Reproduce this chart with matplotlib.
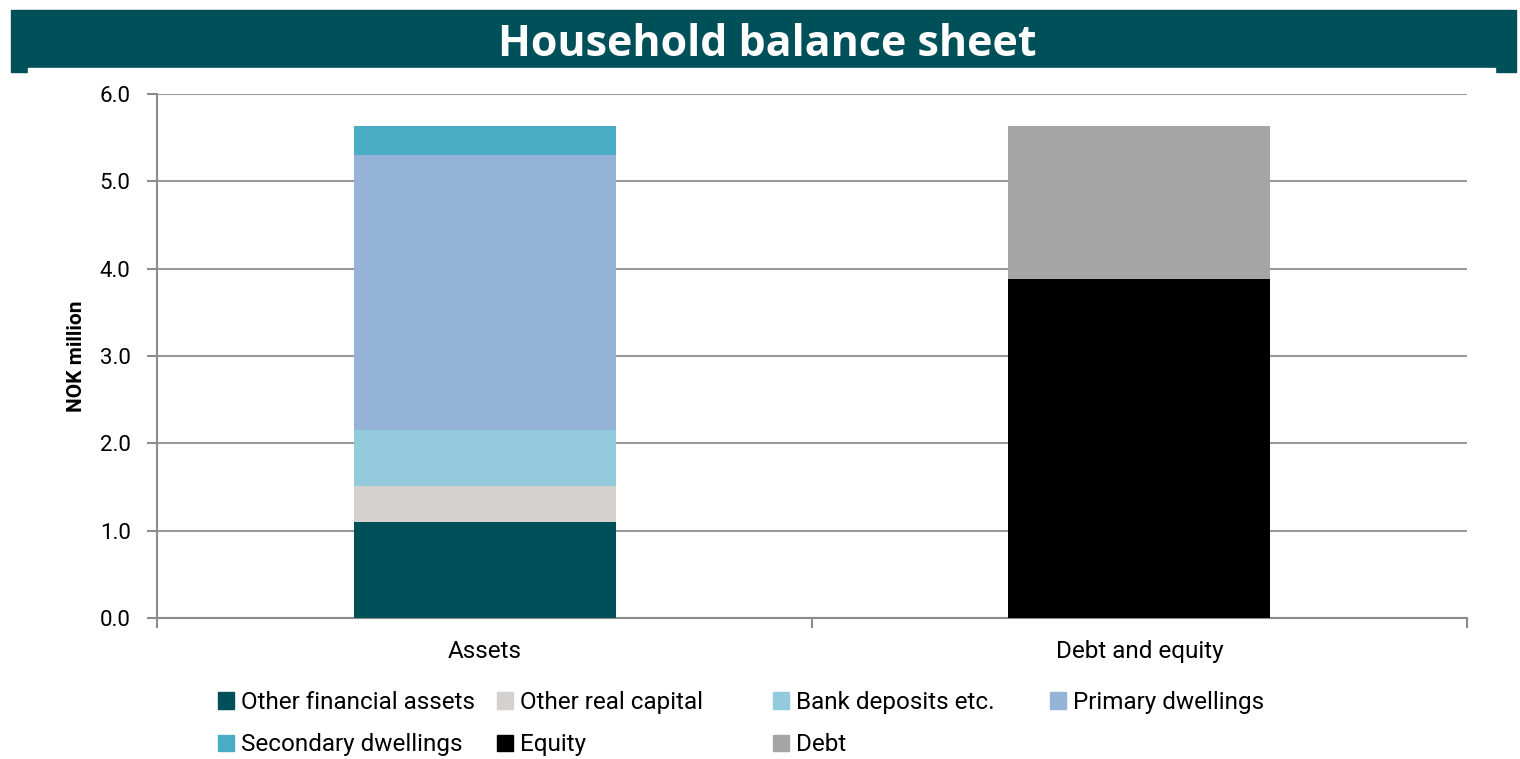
import numpy as np
import matplotlib.pyplot as plt
from matplotlib.patches import Rectangle, Patch

plt.rcParams['font.family'] = ['Roboto', 'DejaVu Sans']

# Data (NOK million)
categories = ['Assets', 'Debt and equity']
series_names = ['Other financial assets', 'Other real capital', 'Bank deposits etc.',
                'Primary dwellings', 'Secondary dwellings', 'Equity', 'Debt']
other_financial = [1.10, 0.0]
other_real = [0.41, 0.0]
bank_deposits = [0.64, 0.0]
primary_dwellings = [3.15, 0.0]
secondary_dwellings = [0.33, 0.0]
equity = [0.0, 3.88]
debt = [0.0, 1.75]
yticks = [0, 1, 2, 3, 4, 5, 6]

colors = ['#00505A', '#D5D1CE', '#93CBDC', '#95B3D7', '#4BACC6', '#000000', '#A5A5A5']
values = [other_financial, other_real, bank_deposits, primary_dwellings,
          secondary_dwellings, equity, debt]

fig = plt.figure(figsize=(15.2, 7.59), dpi=100)

# title banner
fig.patches.append(Rectangle((11 / 1520, 1 - 72 / 759), 1505 / 1520, 62 / 759,
                             transform=fig.transFigure, color='#00505A', zorder=0))
fig.patches.append(Rectangle((28 / 1520, 1 - 76 / 759), 1467 / 1520, 8 / 759,
                             transform=fig.transFigure, color='white', zorder=1))
fig.text(0.5046, 1 - 45 / 759, 'Household balance sheet', family='Open Sans',
         fontweight='bold', fontsize=31, color='white', ha='center', va='center')

ax = fig.add_axes([157 / 1520, 1 - 618 / 759, 1310 / 1520, 524 / 759])
x = np.arange(len(categories))
bottom = np.zeros(len(categories))
for name, vals, c in zip(series_names, values, colors):
    ax.bar(x, vals, width=0.4, bottom=bottom, color=c, label=name, zorder=3)
    bottom += np.array(vals)

ax.set_xlim(-0.5, 1.5)
ax.set_ylim(0, 6)
ax.set_yticks(yticks)
ax.set_yticklabels([f'{v:.1f}' for v in yticks])
ax.set_xticks(x)
ax.set_xticklabels(categories)
ax.set_xticks([-0.5, 0.5, 1.5], minor=True)
ax.tick_params(axis='x', which='major', length=0, pad=16, labelsize=17.5)
ax.tick_params(axis='x', which='minor', length=7, width=1.5, color='#8C8C8C')
ax.tick_params(axis='y', length=7, width=1.5, color='#8C8C8C', pad=12, labelsize=16)
ax.grid(axis='y', color='#999999', linewidth=1.5, zorder=0)
for s in ['top', 'right']:
    ax.spines[s].set_visible(False)
for s in ['left', 'bottom']:
    ax.spines[s].set_color('#8C8C8C')
    ax.spines[s].set_linewidth(1.5)
ax.set_ylabel('NOK million', fontweight='bold', fontsize=15, labelpad=10)

# legend laid out in fixed-width columns, row-wise order
handles = [Patch(color=c) for c in colors]
col_x = [218, 497, 773, 1050]
for j, cx in enumerate(col_x):
    idx = [i for i in (j, j + 4) if i < len(series_names)]
    fig.legend([handles[i] for i in idx], [series_names[i] for i in idx],
               loc='upper left', bbox_to_anchor=(cx / 1520, 1 - 691 / 759),
               frameon=False, fontsize=17.5, handlelength=0.65, handleheight=0.65,
               handletextpad=0.3, labelspacing=0.8, borderpad=0, borderaxespad=0)

fig.savefig('out.png', dpi=100)
